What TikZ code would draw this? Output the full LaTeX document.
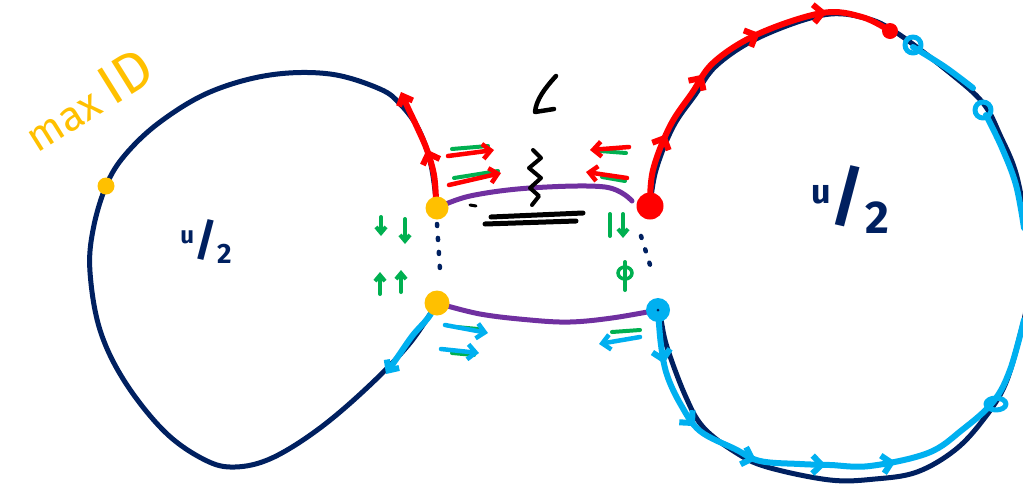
\documentclass[tikz,border=0pt]{standalone}
\usepackage{fontspec}
\setsansfont{Fira Sans}
\usetikzlibrary{arrows.meta,decorations.markings}
\definecolor{navy}{HTML}{002060}
\definecolor{inkred}{HTML}{FF0000}
\definecolor{inkcyan}{HTML}{00B0F0}
\definecolor{inkgreen}{HTML}{00B050}
\definecolor{inkpurple}{HTML}{7030A0}
\definecolor{inkyellow}{HTML}{FFC000}
\begin{document}
\begin{tikzpicture}[x=1pt,y=-1pt,
  loopline/.style={draw=navy,line width=5pt,line cap=round,line join=round},
  redpen/.style={draw=inkred,line width=6pt,line cap=round,line join=round},
  cyanpen/.style={draw=inkcyan,line width=6pt,line cap=round,line join=round},
  greenpen/.style={draw=inkgreen,line width=4pt,line cap=round},
  purplepen/.style={draw=inkpurple,line width=5pt,line cap=round},
  blackpen/.style={draw=black,line width=4.5pt,line cap=round,line join=round},
  dotpen/.style={draw=navy,line width=4.5pt,line cap=round,dash pattern=on 2pt off 12pt},
  barb/.style={-{Straight Barb[length=8pt,width=15pt]}},
  gtip/.style={-{Straight Barb[length=6pt,width=10pt]}},
  chev/.style={postaction={decorate},decoration={markings,mark=between positions #1 with {\arrow{Straight Barb[length=9pt,width=18pt]}}}},
  dotnode/.style={circle,inner sep=0pt,minimum size=#1},
  handtext/.style={font=\sffamily,inner sep=0pt}
]
\path[use as bounding box] (0,0) rectangle (1023,483);

% junction points
\coordinate (yL1) at (437,208);
\coordinate (yL2) at (437,303);
\coordinate (yL0) at (106,186);
\coordinate (rR1) at (650,206);
\coordinate (bR2) at (658,310);
\coordinate (rTop) at (890,31);

% left loop
\draw[loopline] plot[smooth,tension=0.6] coordinates {(yL1) (431,165) (419,130) (401,105) (380,89) (330,74) (270,75) (210,92) (160,122) (125,155) (106,186) (93,230) (90,272) (100,330) (125,382) (165,432) (205,460) (235,467) (272,458) (320,428) (370,385) (410,343) (yL2)};

% right loop
\draw[loopline] plot[smooth,tension=0.6] coordinates {(rR1) (656,170) (673,127) (695,95) (717,65) (760,37) (823,15) (865,18) (897,33) (950,73) (983,103) (1000,135) (1017,177) (1027,240) (1027,300) (1020,335) (1005,385) (983,420) (955,450) (917,472) (875,479) (830,480) (767,467) (735,452) (703,427) (685,395) (667,347) (661,320) (bR2)};

% red overlays
\draw[redpen,chev={0.45 and 0.5 step 0.1},barb] plot[smooth,tension=0.6] coordinates {(436,200) (434,175) (427,150) (417,127) (408,108) (401,92)};
\draw[redpen,chev={0.21 and 0.82 step 0.2}] plot[smooth,tension=0.6] coordinates {(rR1) (653,170) (670,126) (692,93) (714,62) (758,34) (822,13) (862,17) (rTop)};

% cyan overlays
\draw[cyanpen,barb] plot[smooth,tension=0.6] coordinates {(yL2) (428,318) (413,335) (399,355) (386,374)};
\draw[cyanpen,chev={0.1 and 0.75 step 0.13}] plot[smooth,tension=0.6] coordinates {(bR2) (661,345) (667,375) (681,405) (700,431) (735,449) (760,461) (800,464) (830,465) (870,466) (928,453) (962,430) (993,402) (1010,370) (1024,320)};
\draw[cyanpen] plot[smooth,tension=0.6] coordinates {(913,47) (945,67) (973,88)};
\draw[cyanpen] plot[smooth,tension=0.6] coordinates {(986,115) (1002,148) (1016,185) (1024,228)};
\draw[cyanpen,line width=5pt] (913,45) circle[radius=8];
\draw[cyanpen,line width=5pt] (983,110) circle[radius=8];
\draw[cyanpen,line width=5pt] (996,404) ellipse[x radius=10,y radius=6];

% purple sides
\draw[purplepen] plot[smooth,tension=0.6] coordinates {(yL1) (470,196) (530,188) (605,187) (632,201)};
\draw[purplepen] plot[smooth,tension=0.6] coordinates {(yL2) (480,314) (530,320) (570,322) (612,318) (bR2)};

% dotted gaps
\draw[dotpen] (437,224) -- (440,270);
\draw[dotpen] (641,236) -- (651,268);

% red/green paired arrows (top)
\draw[greenpen] (452,149) -- (488,146);
\draw[redpen,barb,line width=4.5pt] (448,156) -- (494,150);
\draw[greenpen] (454,178) -- (498,171);
\draw[redpen,barb,line width=4.5pt] (449,185) -- (501,173);
\draw[greenpen] (626,153) -- (600,151);
\draw[redpen,barb,line width=4.5pt] (629,147) -- (590,150);
\draw[greenpen] (625,181) -- (602,177);
\draw[redpen,barb,line width=4.5pt] (627,178) -- (586,172);

% cyan/green paired arrows (bottom)
\draw[greenpen] (456,327) -- (478,329);
\draw[cyanpen,barb,line width=4.5pt] (445,325) -- (488,333);
\draw[greenpen] (452,353) -- (474,355);
\draw[cyanpen,barb,line width=4.5pt] (441,349) -- (479,353);
\draw[greenpen] (612,332) -- (640,330);
\draw[cyanpen,barb,line width=4.5pt] (640,337) -- (599,344);

% green vertical arrows
\draw[greenpen,gtip] (381,217) -- (381,236);
\draw[greenpen,gtip] (405,219) -- (405,244);
\draw[greenpen,gtip] (380,294) -- (380,272);
\draw[greenpen,gtip] (401,292) -- (401,270);
\draw[greenpen] (610,214) -- (610,236);
\draw[greenpen,gtip] (623,214) -- (623,238);
\draw[greenpen] (625,262) -- (625,290);
\draw[greenpen,line width=3.5pt] (625,273) ellipse[x radius=7,y radius=6];

% black marks
\draw[blackpen] (556,76) .. controls (545,88) and (536,100) .. (535,112) -- (554,109);
\draw[blackpen,line width=4pt] (533,150) -- (541,158) -- (529,168) -- (541,178) -- (530,188) -- (539,196) -- (532,205);
\draw[blackpen,line width=5pt] (491,217) -- (583,213);
\draw[blackpen,line width=5pt] (485,224) -- (576,221);
\draw[blackpen,line width=3pt] (470,205) -- (476,206);

% junction dots
\node[dotnode=23,fill=inkyellow] (nyL1) at (yL1) {};
\node[dotnode=25,fill=inkyellow] (nyL2) at (yL2) {};
\node[dotnode=17,fill=inkyellow] (nyL0) at (yL0) {};
\node[dotnode=27,fill=inkred] (nrR1) at (rR1) {};
\node[dotnode=24,fill=inkcyan] (nbR2) at (bR2) {};
\fill[navy] (bR2) circle[radius=1.5];
\node[dotnode=16,fill=inkred] (nrTop) at (rTop) {};

% labels
\node[handtext,text=inkyellow,rotate=32] (maxid) at (88,100) {\fontsize{42}{42}\selectfont max\hspace{10pt}\fontsize{56}{56}\selectfont ID};
\node[handtext,text=navy,font=\sffamily\bfseries] (halfL) at (206,242) {\fontsize{44}{44}\selectfont\raisebox{12pt}{\fontsize{24}{24}\selectfont u}/\raisebox{-8pt}{\fontsize{28}{28}\selectfont 2}};
\node[handtext,text=navy,font=\sffamily\bfseries] (halfR) at (850,200) {\fontsize{66}{66}\selectfont\raisebox{16pt}{\fontsize{34}{34}\selectfont u}/\raisebox{-14pt}{\fontsize{46}{46}\selectfont 2}};
\end{tikzpicture}
\end{document}
